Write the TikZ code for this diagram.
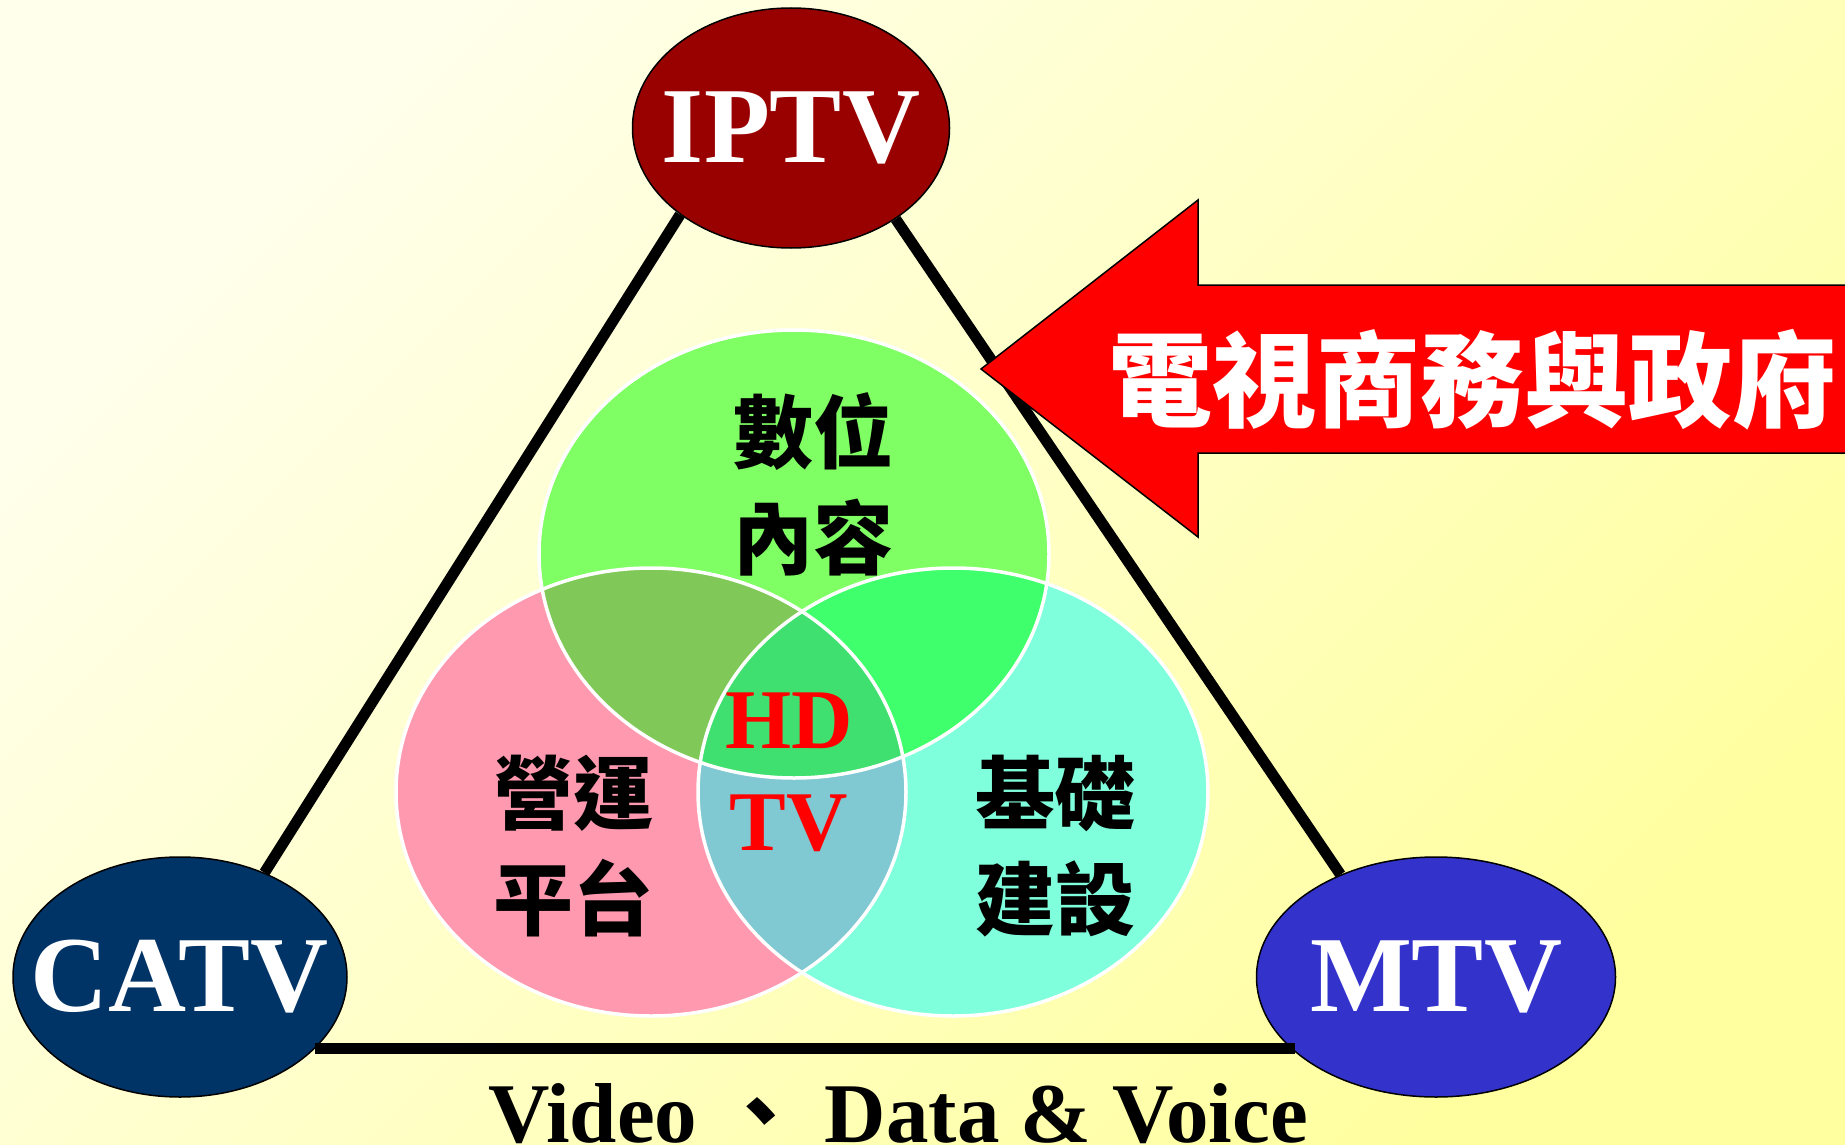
\documentclass[tikz,border=0pt]{standalone}
\usepackage{fontspec}
\setmainfont{Liberation Serif}
\newfontfamily\cjk{Noto Sans CJK TC}
\usetikzlibrary{positioning, shapes.geometric}
\definecolor{bglight}{RGB}{255,255,236}
\definecolor{bgdark}{RGB}{255,255,160}
\definecolor{iptvred}{RGB}{153,0,0}
\definecolor{catvblue}{RGB}{0,51,102}
\definecolor{mtvblue}{RGB}{51,51,204}
\definecolor{contentgreen}{RGB}{128,255,100}
\definecolor{platformpink}{RGB}{255,153,176}
\definecolor{infracyan}{RGB}{128,255,220}
\definecolor{greenpink}{RGB}{128,200,88}
\definecolor{greencyan}{RGB}{64,255,108}
\definecolor{pinkcyan}{RGB}{128,200,210}
\definecolor{hdtvgreen}{RGB}{64,224,112}
\tikzstyle{tvnet} = [ellipse, draw=black, line width=1.5pt, minimum width=317pt, minimum height=240pt, inner sep=0pt]
\tikzstyle{tvtext} = [text=white, font=\fontsize{108}{110}\selectfont\bfseries]
\tikzstyle{venn} = [ellipse, minimum width=510pt, minimum height=448pt, inner sep=0pt]
\tikzstyle{vennline} = [draw=white, line width=3.5pt]
\tikzstyle{vennlabel} = [align=center, font=\cjk\bfseries\fontsize{80}{106}\selectfont]
\tikzstyle{link} = [line width=11pt, black]
\tikzstyle{govarrow} = [fill=red, draw=black, line width=1.5pt]

\begin{document}
\begin{tikzpicture}[x=1pt, y=-1pt]
    \useasboundingbox (0,0) rectangle (1845,1145);
    \shade[top color=bglight, bottom color=bgdark, shading angle=45] (0,0) rectangle (1845,1145);

        % Venn
        \node (content) [venn, fill=contentgreen] at (794,554) {};
        \node (platform) [venn, fill=platformpink] at (651,792) {};
        \node (infra) [venn, fill=infracyan] at (953,792) {};
        \begin{scope}
            \clip (content.center) ellipse [x radius=255, y radius=224];
            \fill[greenpink] (platform.center) ellipse [x radius=255, y radius=224];
            \fill[greencyan] (infra.center) ellipse [x radius=255, y radius=224];
        \end{scope}
        \begin{scope}
            \clip (platform.center) ellipse [x radius=255, y radius=224];
            \fill[pinkcyan] (infra.center) ellipse [x radius=255, y radius=224];
            \clip (infra.center) ellipse [x radius=255, y radius=224];
            \fill[hdtvgreen] (content.center) ellipse [x radius=255, y radius=224];
        \end{scope}
        \draw[vennline] (content.center) ellipse [x radius=255, y radius=224];
        \draw[vennline] (platform.center) ellipse [x radius=255, y radius=224];
        \draw[vennline] (infra.center) ellipse [x radius=255, y radius=224];

        \node (contentlabel) [vennlabel] at (813,484) {數位\\內容};
        \node (platformlabel) [vennlabel] at (573,846) {營運\\平台};
        \node (infralabel) [vennlabel] at (1055,846) {基礎\\建設};
        \node (hdtv) [align=center, text=red, font=\fontsize{85}{102}\selectfont\bfseries] at (789,772) {HD\\TV};

        % Nodes
        \node (iptv) [tvnet, fill=iptvred, label={[tvtext]center:IPTV}] at (791,128) {};
        \node (catv) [tvnet, fill=catvblue, minimum width=334pt, label={[tvtext]center:CATV}] at (180,977) {};
        \node (mtv) [tvnet, fill=mtvblue, minimum width=359pt, label={[tvtext]center:MTV}] at (1436,977) {};

        % Links
        \draw [link] (iptv.218) -- (catv.51);
        \draw [link] (iptv.319) -- (mtv.133);
        \draw [link] (catv.332) -- (catv.332 -| mtv.208);

        % Arrow
        \draw [govarrow] (981,369) -- (1198,200) -- (1198,285) -- (1852,285) -- (1852,453) -- (1198,453) -- (1198,537) -- cycle;
        \node (gov) [text=white, font=\cjk\bfseries\fontsize{104}{110}\selectfont] at (1472,380) {電視商務與政府};

        \node (media) [anchor=base, font=\fontsize{85}{90}\selectfont\bfseries] at (898,1142) {Video {\cjk 、} Data \& Voice};

    \end{tikzpicture}
\end{document}
